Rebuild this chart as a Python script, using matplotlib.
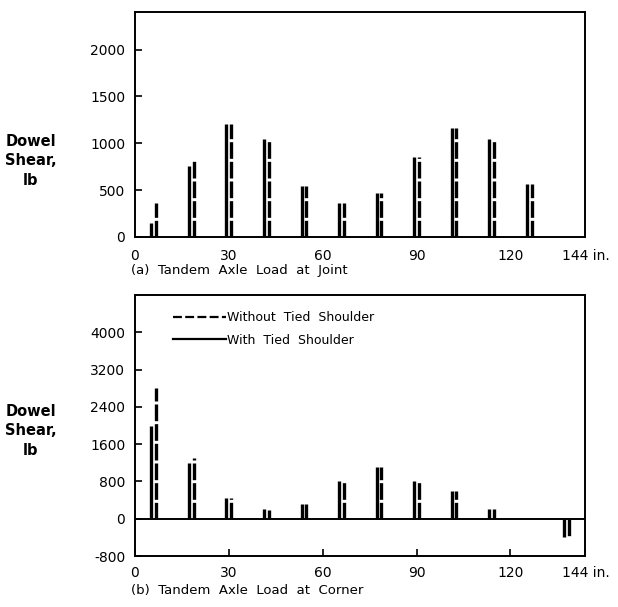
import matplotlib.pyplot as plt
from matplotlib.lines import Line2D
import numpy as np

# dowel positions across the joint, inches from the edge
dowels = [6, 18, 30, 42, 54, 66, 78, 90, 102, 114, 126, 138]

# (a) tandem axle load at joint
joint_with = [150, 760, 1210, 1050, 540, 360, 470, 850, 1160, 1050, 560, 0]
joint_without = [360, 810, 1210, 1040, 540, 360, 470, 850, 1160, 1040, 560, 0]

# (b) tandem axle load at corner
corner_with = [2000, 1200, 450, 200, 320, 800, 1100, 800, 600, 200, 0, -390]
corner_without = [2800, 1300, 450, 180, 320, 800, 1100, 800, 600, 200, 0, -390]

xticks = [0, 30, 60, 90, 120, 144]
xlabels = ['0', '30', '60', '90', '120', '144 in.']

plt.rcParams['font.family'] = ['DejaVu Sans']
fig = plt.figure(figsize=(6.18, 6.07), dpi=100)
ax1 = fig.add_axes([0.2184, 0.6096, 0.729, 0.3706])
ax2 = fig.add_axes([0.2184, 0.0840, 0.729, 0.4300])

off = 0.75


def draw_pairs(ax, with_vals, without_vals):
    x = np.array(dowels, dtype=float)
    ax.vlines(x - off, 0, with_vals, color='black', lw=2.4)
    ax.vlines(x + off, 0, without_vals, color='black', lw=2.4,
              linestyles=(0, (5, 0.9)))


def style(ax):
    for s in ax.spines.values():
        s.set_linewidth(1.4)
    ax.set_xlim(0, 144)
    ax.set_xticks(xticks)
    ax.set_xticklabels(xlabels)
    ax.tick_params(direction='in', length=5, width=1.2, labelsize=10, pad=7)


draw_pairs(ax1, joint_with, joint_without)
style(ax1)
ax1.set_ylim(0, 2400)
ax1.set_yticks([0, 500, 1000, 1500, 2000])
ax1.tick_params(axis='x', length=0, pad=9)

draw_pairs(ax2, corner_with, corner_without)
style(ax2)
ax2.set_ylim(-800, 4800)
ax2.set_yticks([-800, 0, 800, 1600, 2400, 3200, 4000])
ax2.set_yticklabels(['-800', '0', '800', '1600', '2400', '3200', '4000'])
ax2.axhline(0, color='black', lw=1.4)

leg_handles = [Line2D([], [], color='black', lw=1.6, ls=(0, (4, 1.5))),
               Line2D([], [], color='black', lw=1.6)]
ax2.legend(leg_handles, ['Without  Tied  Shoulder', 'With  Tied  Shoulder'],
           loc='upper left', bbox_to_anchor=(0.06, 0.98), frameon=False,
           handlelength=4.2, handletextpad=0.1, labelspacing=0.75, fontsize=9)

for yc in (0.735, 0.29):
    fig.text(0.05, yc, 'Dowel\nShear,\nlb', ha='center', va='center',
             fontsize=10.5, fontweight='bold', linespacing=1.35)

fig.text(0.212, 0.555, '(a)  Tandem  Axle  Load  at  Joint', fontsize=9.5,
         va='center')
fig.text(0.212, 0.028, '(b)  Tandem  Axle  Load  at  Corner', fontsize=9.5,
         va='center')

fig.savefig('out.png', dpi=100)
